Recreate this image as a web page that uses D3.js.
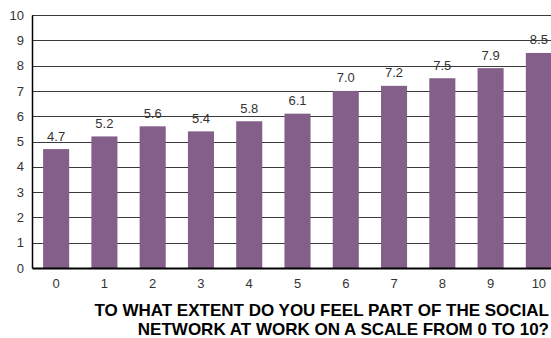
<!DOCTYPE html>
<html>
<head>
<meta charset="utf-8">
<script src="https://cdn.jsdelivr.net/npm/d3@7"></script>
<style>
  body { margin: 0; background: #fff; }
  text { font-family: "Liberation Sans", Arial, sans-serif; }
</style>
</head>
<body>
<svg id="chart" width="551" height="338"></svg>
<script>
// data
var categories = ["0", "1", "2", "3", "4", "5", "6", "7", "8", "9", "10"];
var values = [4.7, 5.2, 5.6, 5.4, 5.8, 6.1, 7.0, 7.2, 7.5, 7.9, 8.5];
var yTicks = [0, 1, 2, 3, 4, 5, 6, 7, 8, 9, 10];
var titleLines = ["TO WHAT EXTENT DO YOU FEEL PART OF THE SOCIAL",
                  "NETWORK AT WORK ON A SCALE FROM 0 TO 10?"];

var svg = d3.select("#chart");

// plot runs off the right edge like the original
var x = d3.scaleBand()
    .domain(categories)
    .range([32, 563])
    .paddingInner(0.46)
    .paddingOuter(0.23);

var y = d3.scaleLinear()
    .domain([0, 10])
    .range([268, 15]);

// gridlines
svg.selectAll("line.grid")
    .data(yTicks.filter(function(d) { return d > 0; }))
    .enter()
    .append("line")
    .attr("class", "grid")
    .attr("x1", 32)
    .attr("x2", 551)
    .attr("y1", function(d) { return Math.round(y(d)) + 0.5; })
    .attr("y2", function(d) { return Math.round(y(d)) + 0.5; })
    .attr("stroke", "#3a3a3a")
    .attr("stroke-width", 1);

// bars
svg.selectAll("rect.bar")
    .data(values)
    .enter()
    .append("rect")
    .attr("class", "bar")
    .attr("x", function(d, i) { return x(categories[i]); })
    .attr("y", function(d) { return y(d); })
    .attr("width", x.bandwidth())
    .attr("height", function(d) { return y(0) - y(d); })
    .attr("fill", "#835f89");

// value labels
svg.selectAll("text.val")
    .data(values)
    .enter()
    .append("text")
    .attr("class", "val")
    .attr("x", function(d, i) { return x(categories[i]) + x.bandwidth() / 2; })
    .attr("y", function(d) { return y(d) - 8.5; })
    .attr("text-anchor", "middle")
    .attr("font-size", 13)
    .attr("fill", "#333")
    .text(function(d) { return d.toFixed(1); });

// y axis
var yAxis = d3.axisLeft(y).tickValues(yTicks).tickSize(0).tickPadding(8);
var gy = svg.append("g")
    .attr("transform", "translate(32,0)")
    .call(yAxis);
gy.select(".domain").attr("stroke", "#000").attr("stroke-width", 1.5);
gy.selectAll("text").attr("font-size", 13).attr("fill", "#333")
    .attr("font-family", "Liberation Sans, Arial, sans-serif");

// x axis
var xAxis = d3.axisBottom(x).tickSize(0).tickPadding(11);
var gx = svg.append("g")
    .attr("transform", "translate(0,268)")
    .call(xAxis);
gx.select(".domain").attr("stroke", "#000").attr("stroke-width", 2);
gx.selectAll("text").attr("font-size", 13).attr("fill", "#333")
    .attr("font-family", "Liberation Sans, Arial, sans-serif");

// title
svg.selectAll("text.title")
    .data(titleLines)
    .enter()
    .append("text")
    .attr("class", "title")
    .attr("x", 549)
    .attr("y", function(d, i) { return 316 + i * 19; })
    .attr("text-anchor", "end")
    .attr("font-size", 17)
    .attr("font-weight", "bold")
    .attr("fill", "#000")
    .text(function(d) { return d; });
</script>
</body>
</html>
